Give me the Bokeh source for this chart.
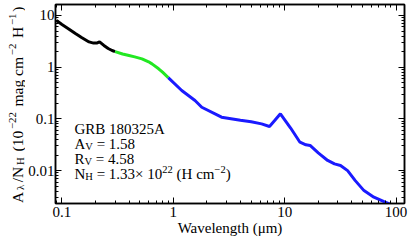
import math
from bokeh.plotting import figure
from bokeh.layouts import row
from bokeh.models import FixedTicker, CustomJSTickFormatter, LogAxis, Label, Range1d
from bokeh.embed import file_html
from bokeh.resources import INLINE

# ---- data ----
wl_uv = [0.0893, 0.10, 0.115, 0.132, 0.15, 0.175, 0.192, 0.205, 0.2175, 0.238, 0.26, 0.282, 0.30]
a_uv = [8.0, 6.7, 5.5, 4.48, 3.75, 3.08, 2.92, 2.93, 3.10, 2.63, 2.3, 2.10, 2.0]

wl_opt = [0.30, 0.35, 0.40, 0.45, 0.523, 0.60, 0.643, 0.738, 0.80, 0.90]
a_opt = [2.0, 1.8, 1.68, 1.58, 1.45, 1.27, 1.16, 0.93, 0.80, 0.63]

wl_ir = [0.90, 1.19, 1.565, 1.8, 2.71, 4.0, 5.0, 6.2, 7.3, 8.2, 9.15, 11.3, 13.7, 15.5, 16.9, 20.0,
         24.3, 28.0, 31.7, 36.7, 43.0, 51.5, 63.2, 78.0, 100.0]
a_ir = [0.63, 0.354, 0.227, 0.168, 0.108, 0.094, 0.088, 0.080, 0.0713, 0.095, 0.1255, 0.0665,
        0.0354, 0.0315, 0.0306, 0.022, 0.0157, 0.0135, 0.01255, 0.010, 0.0064, 0.0041,
        0.00306, 0.0025, 0.0020]

x_ticks = [0.1, 1, 10, 100]
y_ticks = [0.01, 0.1, 1, 10]

grb_name = "GRB 180325A"
A_V = "1.58"
R_V = "4.58"
N_H = "1.33"

# ---- layout constants ----
FONT = "Liberation Serif"
AX_FONT = "Times New Roman"
Q_W = 25                   # width of the strip that carries the y-axis title
FRAME_L, FRAME_B = 53, 203  # page coords of main frame left / bottom

# strip for the vertical y-axis title (its frame is aligned with the main frame)
q = figure(width=Q_W, height=243, x_range=Range1d(0, Q_W), y_range=Range1d(0, 243),
           x_axis_location=None, y_axis_location=None,
           output_backend="svg", toolbar_location=None,
           min_border_left=0, min_border_right=0, min_border_top=0, min_border_bottom=0)
q.xgrid.visible = False
q.ygrid.visible = False
q.outline_line_color = None
q.border_fill_color = "white"
q.background_fill_color = "white"

p = figure(width=411 - Q_W, height=243, x_axis_type="log", y_axis_type="log",
           x_range=Range1d(0.0875, 119.0), y_range=Range1d(0.00231, 16.3),
           output_backend="svg", toolbar_location=None,
           min_border_left=FRAME_L - Q_W, min_border_right=7, min_border_top=4,
           min_border_bottom=40)
p.xgrid.visible = False
p.ygrid.visible = False
p.outline_line_color = "black"
p.outline_line_width = 1.5
p.background_fill_color = "white"
p.border_fill_color = "white"

x_minor = [m * 10.0 ** e for e in range(-2, 3) for m in range(2, 10)]
y_minor = [m * 10.0 ** e for e in range(-3, 2) for m in range(2, 10)]
xticker = FixedTicker(ticks=x_ticks, minor_ticks=x_minor)
yticker = FixedTicker(ticks=y_ticks, minor_ticks=y_minor)
fmt = CustomJSTickFormatter(code="return tick.toString()")
blank = CustomJSTickFormatter(code="return ''")

top = LogAxis(ticker=xticker, formatter=blank, major_label_standoff=0)
right = LogAxis(ticker=yticker, formatter=blank, major_label_standoff=0)
p.add_layout(top, "above")
p.add_layout(right, "right")

bottom = p.below[0]
left = p.left[0]
bottom.ticker = xticker
left.ticker = yticker
bottom.formatter = fmt
left.formatter = fmt
bottom.axis_label = "Wavelength (\u03bcm)"
bottom.axis_label_standoff = 0
bottom.major_label_standoff = 3
left.major_label_standoff = 1

for ax in [bottom, left, top, right]:
    ax.major_tick_in = 6
    ax.major_tick_out = 0
    ax.minor_tick_in = 3
    ax.minor_tick_out = 0
    ax.axis_line_width = 1.5
    ax.axis_line_color = "black"
    ax.major_tick_line_color = "black"
    ax.minor_tick_line_color = "black"
    ax.major_label_text_font = AX_FONT
    ax.major_label_text_font_size = "15px"
    ax.major_label_text_color = "black"
    ax.axis_label_text_font = FONT
    ax.axis_label_text_font_size = "15px"
    ax.axis_label_text_font_style = "normal"
    ax.axis_label_text_color = "black"

p.line(wl_uv, a_uv, line_color="black", line_width=3)
p.line(wl_opt, a_opt, line_color="#22e822", line_width=3)
p.line(wl_ir, a_ir, line_color="#1a1aff", line_width=3)

# ---- text pieces (rich text with sub/superscripts) ----
W = {' ': 0.25, '(': 0.333, ')': 0.333, '/': 0.278, '.': 0.25, '=': 0.564, '\u00d7': 0.564,
     '\u2212': 0.564, 'A': 0.722, 'B': 0.667, 'G': 0.722, 'H': 0.722, 'N': 0.722, 'R': 0.667,
     'V': 0.722, 'a': 0.444, 'c': 0.444, 'g': 0.5, 'm': 0.778, '\u03bb': 0.55}


def width(s, size):
    return sum(W.get(ch, 0.5) for ch in s) * size


def chain(fig, ox, oy, pieces, start, base, vertical=False, main=15, script=10.5, gap=0.0,
          sub_off=3.0, sup_off=-4.5):
    """Place rich text; (ox, oy) = page coords of the figure's frame left / bottom."""
    pos = start if not vertical else 0.0
    for text, kind in pieces:
        size = main if kind == "n" else script
        off = {"n": 0.0, "sub": sub_off, "sup": sup_off}[kind]
        stripped = text.lstrip(" ")
        lead = width(text[:len(text) - len(stripped)], size)
        if not vertical:
            xp, yp, ang = pos + lead, base + off, 0.0
        else:
            xp, yp, ang = base + off, start - (pos + lead), math.pi / 2
        fig.add_layout(Label(x=xp - ox, y=oy - yp, x_units="screen", y_units="screen",
                             text=stripped, angle=ang, text_font=FONT,
                             text_font_size=f"{size}px", text_color="black",
                             text_align="left", text_baseline="alphabetic"))
        pos += width(text, size) + gap


# text box inside the main frame
chain(p, FRAME_L, FRAME_B, [(grb_name, "n")], 72, 128)
chain(p, FRAME_L, FRAME_B, [("A", "n"), ("V", "sub"), (" = " + A_V, "n")], 72, 143)
chain(p, FRAME_L, FRAME_B, [("R", "n"), ("V", "sub"), (" = " + R_V, "n")], 72, 158)
chain(p, FRAME_L, FRAME_B, [("N", "n"), ("H", "sub"), (" = " + N_H + "\u00d7 10", "n"),
                            ("22", "sup"), (" (H cm", "n"), ("\u22122", "sup"), (")", "n")],
      72, 173)

# y-axis title (vertical, reading upward) in the strip; strip frame spans page y 4..203
chain(q, 0, FRAME_B, [("A", "n"), ("\u03bb", "sub"), ("/N", "n"), ("H", "sub"), (" (10", "n"),
                      ("\u221222", "sup"), (" mag cm", "n"), ("\u22122", "sup"), (" H", "n"),
                      ("\u22121", "sup"), (")", "n")],
      202.5, 17, vertical=True, main=15.5, script=10.8, gap=1.8, sub_off=2.0, sup_off=-5.0)

layout = row(q, p, spacing=0)
open("out.html", "w").write(file_html(layout, INLINE))
